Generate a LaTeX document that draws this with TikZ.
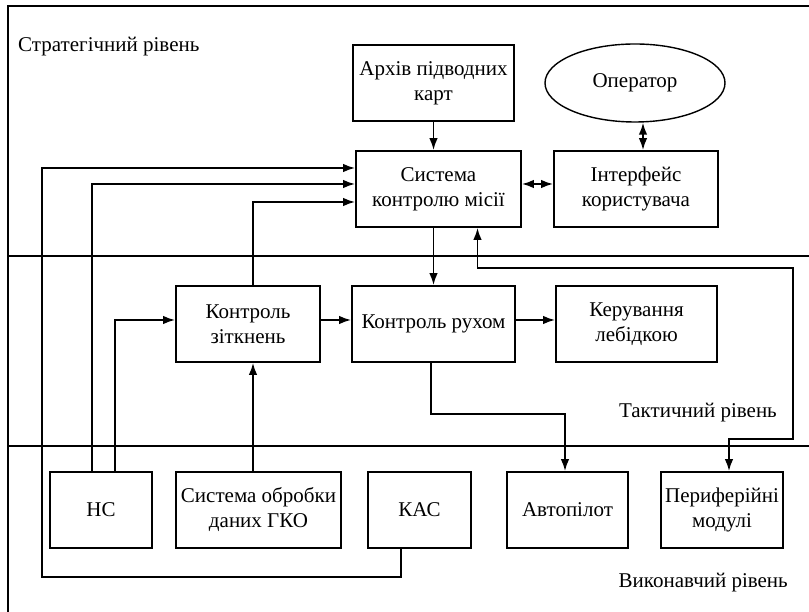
\documentclass[tikz,border=0pt]{standalone}
\usepackage{fontspec}
\setmainfont{Liberation Serif}
\usepackage{tikz}
\usetikzlibrary{positioning,arrows.meta,shapes.geometric}

\begin{document}
\begin{tikzpicture}[
    x=1pt, y=1pt,
    font=\fontsize{21}{25}\selectfont,
    unit/.style={rectangle, draw, line width=1.7pt, minimum height=76pt,
        inner sep=0pt, text centered, align=center},
    actor/.style={ellipse, draw, line width=1.4pt, minimum width=180pt,
        minimum height=78pt, inner sep=0pt},
    level/.style={inner sep=0pt},
    link/.style={line width=1.8pt, -{Latex[length=12pt,width=8.5pt]}},
    both/.style={line width=1.8pt, {Latex[length=12pt,width=8.5pt]}-{Latex[length=12pt,width=8.5pt]}},
    bound/.style={line width=1.9pt}
]
\useasboundingbox (0,0) rectangle (809,612);
\draw[bound] (809,606) -- (8,606) -- (8,0);
\draw[bound] (8,356) -- (809,356);
\draw[bound] (8,166) -- (809,166);

\node (Archive) [unit, minimum width=161pt] at (433.5,529) {Архів підводних\\карт};
\node (Operator) [actor] at (635,529) {Оператор};
\node (Mission) [unit, minimum width=165pt] at (438.5,423) {Система\\контролю місії};
\node (Iface) [unit, minimum width=164pt] at (636,423) {Інтерфейс\\користувача};
\node (Collision) [unit, minimum width=144pt] at (248,288) {Контроль\\зіткнень};
\node (Motion) [unit, minimum width=163pt] at (433.5,288) {Контроль рухом};
\node (Winch) [unit, minimum width=161pt] at (636.5,288) {Керування\\лебідкою};
\node (NS) [unit, minimum width=102pt] at (101,102) {НС};
\node (GKO) [unit, minimum width=165pt] at (258.5,102) {Система обробки\\даних ГКО};
\node (KAS) [unit, minimum width=103pt] at (419.5,102) {КАС};
\node (Pilot) [unit, minimum width=121pt] at (567.5,102) {Автопілот};
\node (Periph) [unit, minimum width=122pt] at (722,102) {Периферійні\\модулі};

\node (Strat) [level, anchor=west] at (18,565) {Стратегічний рівень};
\node (Tact) [level, anchor=east] at (777,199) {Тактичний рівень};
\node (Exec) [level, anchor=east] at (788,29) {Виконавчий рівень};

\coordinate (LoopL) at (42,35);
\coordinate (LoopRT) at (793,344);
\coordinate (LoopRB) at (793,173);

\draw[link] (Archive) -- (Archive.south |- Mission.north);
\draw[both] ([xshift=7pt]Iface.north) -- ([xshift=7pt]Iface.north |- Operator.south);
\draw[both] ([yshift=5pt]Mission.east) -- ([yshift=5pt]Iface.west);
\draw[link] ([xshift=-18.5pt]KAS.south) |- (LoopL) |- ([yshift=21pt]Mission.west);
\draw[link] ([xshift=-9pt]NS.north) |- ([yshift=5pt]Mission.west);
\draw[link] ([xshift=5pt]Collision.north) |- ([yshift=-13pt]Mission.west);
\draw[link] ([xshift=14pt]NS.north) |- ([yshift=4pt]Collision.west);
\draw[link] ([xshift=-5.5pt]GKO.north) -- ([xshift=5pt]Collision.south);
\draw[link] ([yshift=4pt]Collision.east) -- ([yshift=4pt]Motion.west);
\draw[link] (Mission.south -| Motion.north) -- (Motion.north);
\draw[link] ([yshift=4pt]Motion.east) -- ([yshift=4pt]Winch.west);
\draw[link] ([xshift=-2.5pt]Motion.south) -- ++(0,-51) -| ([xshift=-2.5pt]Pilot.north);
\draw[both] ([xshift=39pt]Mission.south) |- (LoopRT) -- (LoopRB) -| ([xshift=7pt]Periph.north);
\end{tikzpicture}
\end{document}
